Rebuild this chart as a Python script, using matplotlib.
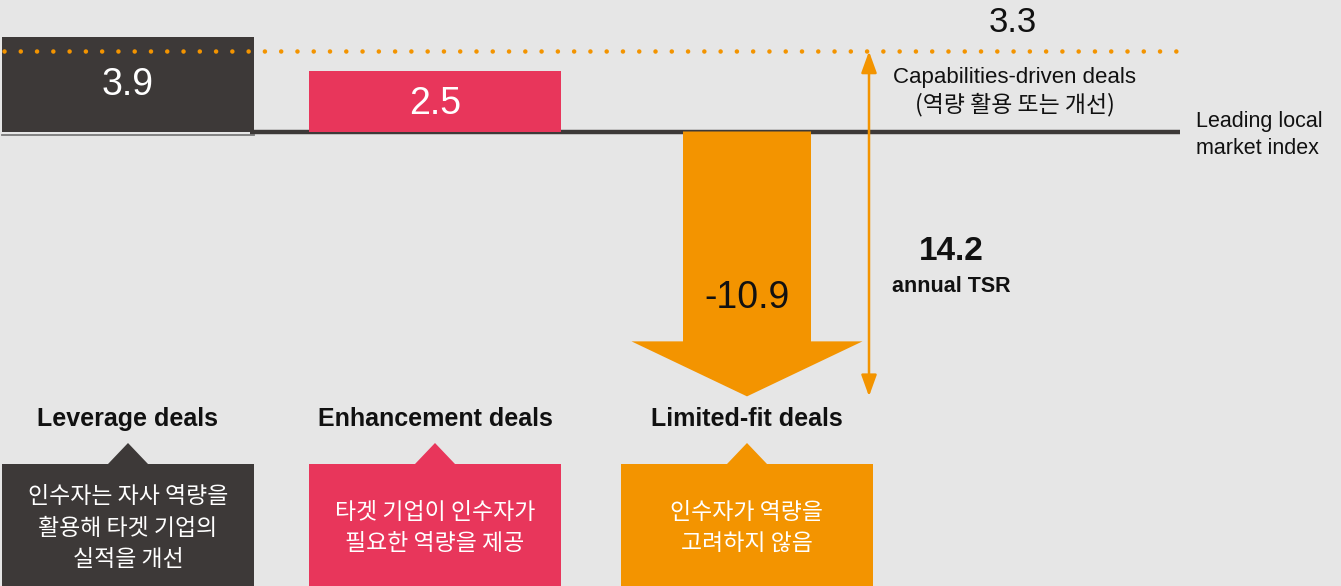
import matplotlib
matplotlib.use("Agg")
import matplotlib.pyplot as plt
from matplotlib.patches import Polygon, Rectangle

# ---- data ----
categories = ["Leverage deals", "Enhancement deals", "Limited-fit deals"]
values = [3.9, 2.5, -10.9]
value_labels = ["3.9", "2.5", "-10.9"]
capability_level = 3.3
capability_label = "3.3"
spread_label = "14.2"
spread_caption = "annual TSR"
descriptions = [
    "인수자는 자사 역량을\n활용해 타겟 기업의\n실적을 개선",
    "타겟 기업이 인수자가\n필요한 역량을 제공",
    "인수자가 역량을\n고려하지 않음",
]
capability_title = "Capabilities-driven deals"
capability_sub = "(역량 활용 또는 개선)"
index_label = "Leading local\nmarket index"

# ---- style ----
BG = "#e6e6e6"
DARK = "#3d3938"
PINK = "#e8365b"
ORANGE = "#f39400"
colors = [DARK, PINK, ORANGE]
LAT = "Liberation Sans"
KR = ["Noto Sans CJK KR", "DejaVu Sans"]

W, H = 1341, 586
ZERO_PX, PX_PER_UNIT = 131.5, 24.3


def P(py):
    """pixel row -> data y (layout helper)"""
    return (ZERO_PX - py) / PX_PER_UNIT


fig = plt.figure(figsize=(W / 100, H / 100), dpi=100, facecolor=BG)
ax = fig.add_axes([0, 0, 1, 1])
ax.set_facecolor(BG)
ax.set_xlim(0, W)
ax.set_ylim(P(H), P(0))
ax.axis("off")

centers = [128, 435, 747]
bar_w = 252

# baseline (leading local market index)
ax.plot([2, 254], [P(134.5), P(134.5)], color="#7a7a7a", lw=1.3, zorder=1)
ax.plot([250, 1180], [0, 0], color=DARK, lw=3.2, solid_capstyle="butt", zorder=2)

# positive bars
for c, v, col in zip(centers[:2], values[:2], colors[:2]):
    ax.bar(c, v, width=bar_w, bottom=0, color=col, zorder=3)

ax.text(centers[0], P(85), value_labels[0], color="white", fontsize=27,
        family=LAT, ha="center", va="center", zorder=6)
ax.text(centers[1], P(104), value_labels[1], color="white", fontsize=27,
        family=LAT, ha="center", va="center", zorder=6)

# negative bar as a down arrow
v = values[2]
c = centers[2]
shaft_hw, head_hw = 64, 115.5
head_len = 55 / PX_PER_UNIT
arrow = Polygon([
    (c - shaft_hw, 0), (c + shaft_hw, 0), (c + shaft_hw, v + head_len),
    (c + head_hw, v + head_len), (c, v), (c - head_hw, v + head_len),
    (c - shaft_hw, v + head_len)], closed=True, color=ORANGE, lw=0, zorder=3)
ax.add_patch(arrow)
ax.text(c, P(298), value_labels[2], color="#111111", fontsize=27,
        family=LAT, ha="center", va="center", zorder=6)

# dotted capability line
ax.plot([4, 1178], [capability_level, capability_level], color=ORANGE,
        lw=3.3, linestyle=(0, (0.001, 3.55)), dash_capstyle="round", zorder=5)
ax.text(1013, P(22), capability_label, color="#111111", fontsize=25,
        family=LAT, ha="center", va="center")

# spread arrow
ax.annotate("", xy=(869, capability_level), xytext=(869, values[2]),
            arrowprops=dict(arrowstyle="<|-|>,head_length=1.3,head_width=0.47",
                            mutation_scale=10, lw=1.8, color=ORANGE,
                            shrinkA=0, shrinkB=0), zorder=5)
ax.text(1015, P(77), capability_title, color="#111111", fontsize=16,
        family=LAT, ha="center", va="center")
ax.text(1015, P(105), capability_sub, color="#111111", fontsize=16.5,
        family=KR, ha="center", va="center")
ax.text(1196, P(135), index_label, color="#111111", fontsize=15.5,
        family=LAT, ha="left", va="center", linespacing=1.35)
ax.text(951, P(251), spread_label, color="#111111", fontsize=24,
        family=LAT, weight="bold", ha="center", va="center")
ax.text(951, P(286), spread_caption, color="#111111", fontsize=15.5,
        family=LAT, weight="bold", ha="center", va="center")

# category labels and description boxes
box_top = P(464)
apex = P(443)
tri_hw = 20
for c, cat, desc, col in zip(centers, categories, descriptions, colors):
    ax.text(c, P(419), cat, color="#111111", fontsize=18, family=LAT,
            weight="bold", ha="center", va="center")
    ax.add_patch(Rectangle((c - bar_w / 2, P(H + 10)), bar_w,
                           box_top - P(H + 10), color=col, lw=0, zorder=3))
    ax.add_patch(Polygon([(c - tri_hw, box_top), (c + tri_hw, box_top),
                          (c, apex)], closed=True, color=col, lw=0, zorder=3))
    ax.text(c, P(528), desc, color="white", fontsize=16.5, family=KR,
            ha="center", va="center", linespacing=1.48, zorder=6)

fig.savefig("out.png", dpi=100, facecolor=BG)
